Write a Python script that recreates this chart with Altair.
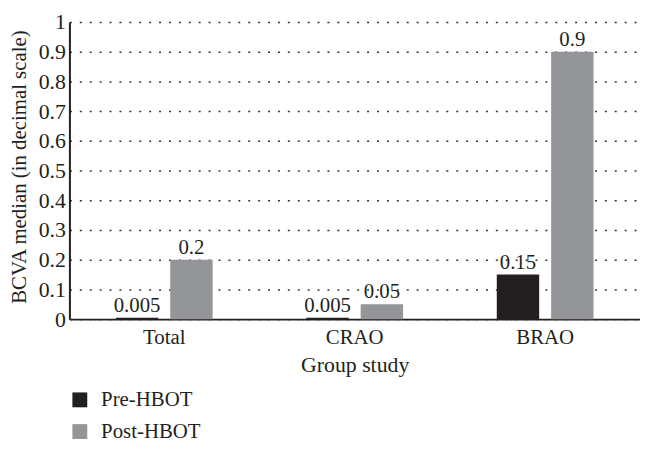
import altair as alt
import pandas as pd

groups = ["Total", "CRAO", "BRAO"]
phases = ["Pre-HBOT", "Post-HBOT"]
pre_values = [0.005, 0.005, 0.15]
post_values = [0.2, 0.05, 0.9]
pre_labels = ["0.005", "0.005", "0.15"]
post_labels = ["0.2", "0.05", "0.9"]
colors = ["#231f20", "#939598"]

rows = []
for g, v, l in zip(groups, pre_values, pre_labels):
    rows.append({"group": g, "phase": phases[0], "value": v, "label": l})
for g, v, l in zip(groups, post_values, post_labels):
    rows.append({"group": g, "phase": phases[1], "value": v, "label": l})
df = pd.DataFrame(rows)

FONT = "Liberation Serif"

x = alt.X(
    "group:N",
    sort=groups,
    scale=alt.Scale(paddingInner=0.492, paddingOuter=0.244),
    axis=alt.Axis(
        title="Group study",
        labelAngle=0,
        ticks=False,
        domainColor="#231f20",
        domainWidth=2,
        labelPadding=8,
        titlePadding=7,
        labelFontSize=21,
        titleFontSize=22,
    ),
)
xo = alt.XOffset("phase:N", sort=phases, scale=alt.Scale(paddingInner=0.22))

y = alt.Y(
    "value:Q",
    scale=alt.Scale(domain=[0, 1], nice=False),
    axis=alt.Axis(
        title="BCVA median (in decimal scale)",
        values=[0, 0.1, 0.2, 0.3, 0.4, 0.5, 0.6, 0.7, 0.8, 0.9, 1],
        labelExpr="datum.value == 0 ? '0' : datum.value == 1 ? '1' : format(datum.value, '.1f')",
        ticks=False,
        grid=True,
        gridDash=[2, 8],
        gridColor="#333333",
        gridWidth=1.5,
        domainColor="#231f20",
        domainWidth=2,
        labelPadding=4,
        labelFontSize=22,
        titleFontSize=21,
        titleX=-40,
        titleY=146,
    ),
)

color = alt.Color(
    "phase:N",
    sort=phases,
    scale=alt.Scale(domain=phases, range=colors),
    legend=alt.Legend(
        title=None,
        orient="none",
        legendX=0,
        legendY=371,
        symbolType="square",
        symbolSize=225,
        symbolStrokeWidth=0,
        labelFontSize=21,
        labelOffset=11,
        rowPadding=10,
    ),
)

bars = alt.Chart(df).mark_bar().encode(x=x, xOffset=xo, y=y, color=color)
text = alt.Chart(df).mark_text(
    baseline="alphabetic", dy=-6, fontSize=21, font=FONT, color="#231f20"
).encode(x=x, xOffset=xo, y=y, text="label:N")

chart = (
    alt.layer(bars, text)
    .properties(
        width=576,
        height=300,
        autosize=alt.AutoSizeParams(type="none"),
        padding={"left": 62, "top": 12, "right": 0, "bottom": 128},
    )
    .configure(font=FONT)
    .configure_axis(labelColor="#231f20", titleColor="#231f20", titleFontWeight="normal", labelFont=FONT, titleFont=FONT)
    .configure_legend(labelColor="#231f20", labelFont=FONT)
    .configure_view(stroke=None)
)

chart.save("out.html", embed_options={"renderer": "svg", "actions": False})
